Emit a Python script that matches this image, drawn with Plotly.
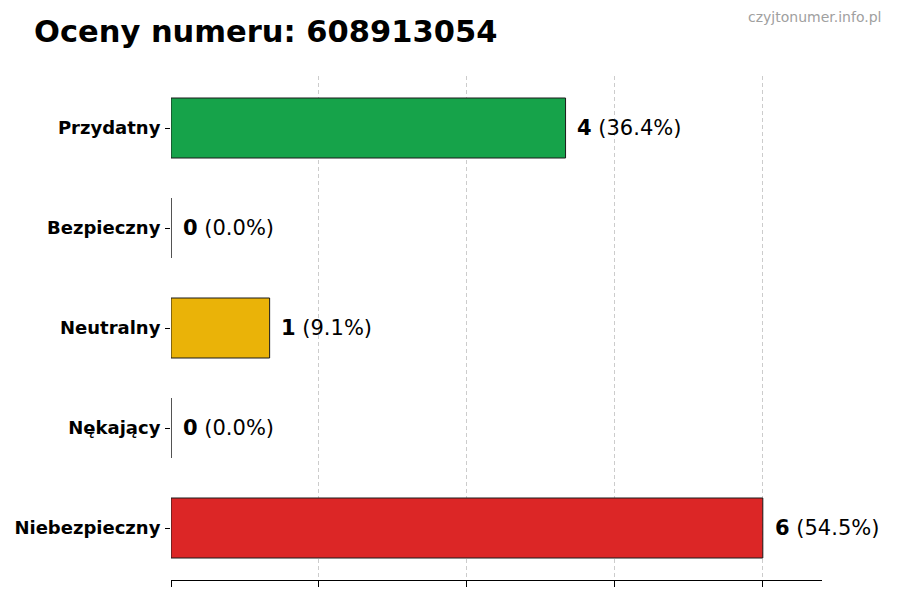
import plotly.graph_objects as go

# Oceny numeru - liczba głosów na kategorię
kategorie = ['Przydatny', 'Bezpieczny', 'Neutralny', 'Nękający', 'Niebezpieczny']
liczby = [4, 0, 1, 0, 6]
kolory = ['#16a34a', '#2563eb', '#eab308', '#f97316', '#dc2626']
siatka_x = [0, 1.5, 3, 4.5, 6]

numer = '608913054'
zrodlo = 'czyjtonumer.info.pl'
suma = sum(liczby)
procenty = [100 * v / suma for v in liczby]
przesuniecie = max(liczby) * 0.02

FONT = 'DejaVu Sans'
# strona ma domyślny margines body 8px, więc figura jest o tyle mniejsza
W, H = 892, 592

fig = go.Figure()
fig.add_trace(go.Bar(
    x=liczby, y=kategorie, orientation='h', width=0.6,
    marker=dict(color=kolory, line=dict(color='#1a1a1a', width=1)),
    hoverinfo='skip', showlegend=False,
))

# etykiety: liczba (pogrubiona) + procent
for kat, v, p in zip(kategorie, liczby, procenty):
    fig.add_annotation(
        x=v + przesuniecie, y=kat, xref='x', yref='y',
        text=f'<b>{v}</b> ({p:.1f}%)', showarrow=False,
        xanchor='left', yanchor='middle', xshift=-2,
        font=dict(family=FONT, size=21, color='black'),
    )

# znak wodny w prawym górnym rogu
fig.add_annotation(
    x=1.0, y=1.0, xref='paper', yref='paper', text=zrodlo,
    showarrow=False, xanchor='right', yanchor='middle',
    xshift=61, yshift=59,
    font=dict(family=FONT, size=14, color='#a0a0a0'),
)

fig.update_layout(
    width=W, height=H,
    margin=dict(l=163, r=78, t=68, b=20, autoexpand=False),
    paper_bgcolor='white', plot_bgcolor='white',
    font=dict(family=FONT, color='black'),
    title=dict(
        text=f'<b>Oceny numeru: {numer}</b>',
        x=26 / W, xanchor='left', xref='container',
        y=1 - 23 / H, yanchor='middle', yref='container',
        font=dict(family=FONT, size=30.5, color='black'),
    ),
)

fig.update_xaxes(
    range=[0, 6.6], tickvals=siatka_x, showticklabels=False,
    ticks='outside', ticklen=6, tickcolor='black',
    showline=True, linecolor='black', linewidth=1,
    showgrid=True, gridcolor='#cccccc', griddash='4px,3px', gridwidth=1,
    zeroline=False,
)
fig.update_yaxes(
    categoryorder='array', categoryarray=kategorie, range=[4.52, -0.52],
    ticks='outside', ticklen=5, tickcolor='black', ticklabelstandoff=1,
    tickfont=dict(family=FONT, size=18, color='black', weight='bold'),
    showline=False, showgrid=False, zeroline=False,
)

fig.write_html('out.html')
